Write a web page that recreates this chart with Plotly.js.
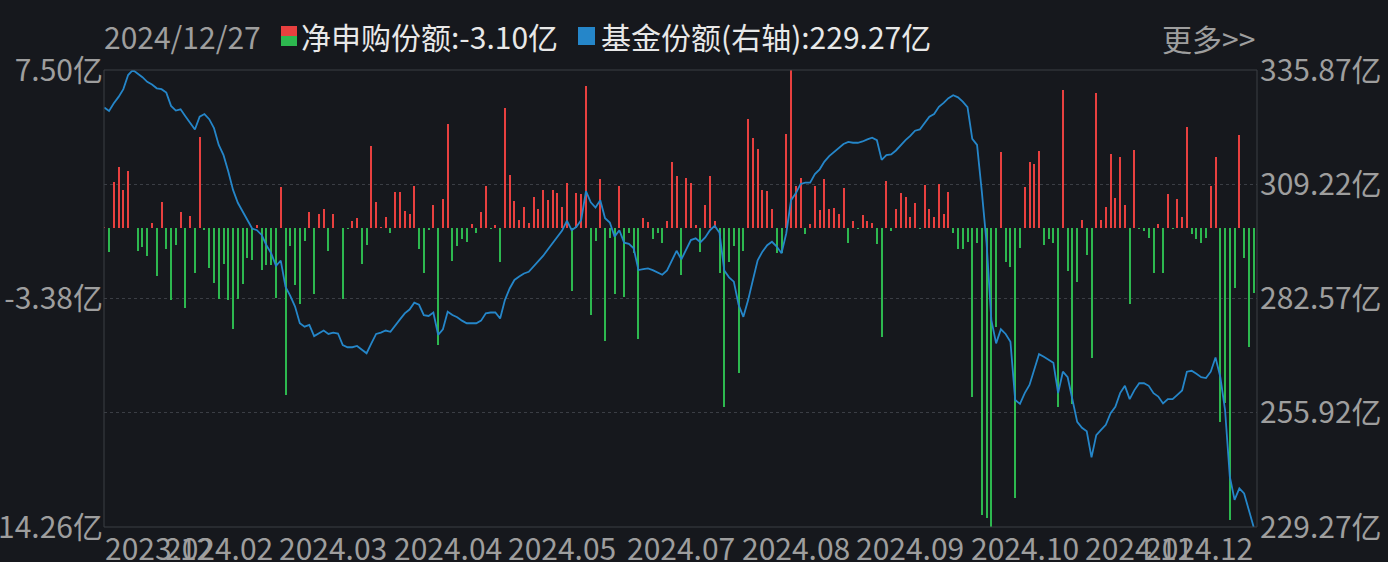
<!DOCTYPE html>
<html>
<head>
<meta charset="utf-8">
<script src="https://cdn.plot.ly/plotly-3.0.1.min.js"></script>
<style>
  html, body { margin: 0; padding: 0; background: #16181d; }
  #chart { width: 1388px; height: 562px; }
</style>
</head>
<body>
<div id="chart"></div>
<script>
// ---- trading calendar (categories) ----
const tradeMonths = ['2023-12','2024-01','2024-02','2024-03','2024-04','2024-05','2024-06','2024-07','2024-08','2024-09','2024-10','2024-11','2024-12'];
const tradeDays = [
  [28,29],
  [2,3,4,5,8,9,10,11,12,15,16,17,18,19,22,23,24,25,26,29,30,31],
  [1,2,5,6,7,8,19,20,21,22,23,26,27,28,29],
  [1,4,5,6,7,8,11,12,13,14,15,18,19,20,21,22,25,26,27,28,29],
  [1,2,3,8,9,10,11,12,15,16,17,18,19,22,23,24,25,26,29,30],
  [6,7,8,9,10,13,14,15,16,17,20,21,22,23,24,27,28,29,30,31],
  [3,4,5,6,7,11,12,13,14,17,18,19,20,21,24,25,26,27,28],
  [1,2,3,4,5,8,9,10,11,12,15,16,17,18,19,22,23,24,25,26,29,30,31],
  [1,2,5,6,7,8,9,12,13,14,15,16,19,20,21,22,23,26,27,28,29,30],
  [2,3,4,5,6,9,10,11,12,13,18,19,20,23,24,25,26,27,30],
  [8,9,10,11,14,15,16,17,18,21,22,23,24,25,28,29,30,31],
  [1,4,5,6,7,8,11,12,13,14,15,18,19,20,21,22,25,26,27,28,29],
  [2,3,4,5,6,9,10,11,12,13,16,17,18,19,20,23,24,25,26,27]
];
const dates = [];
tradeMonths.forEach((m, k) => tradeDays[k].forEach(d => dates.push(m + '-' + String(d).padStart(2, '0'))));

// ---- series: net subscription (亿份) ----
const netSubscription = [
  0.03,-1.15,2.18,2.90,1.79,2.71,-0.04,-1.10,-0.91,-1.34,
  0.23,-2.31,1.21,-1.01,-3.47,-0.85,0.75,-3.82,0.56,-2.15,
  4.29,-0.13,-1.93,-2.63,-3.40,-1.72,-3.47,-4.82,-3.40,-2.67,
  -1.45,-1.55,0.12,-2.01,-1.77,-1.77,-3.34,1.93,-7.96,-0.88,
  -2.72,-3.63,-0.64,0.72,-3.15,0.64,0.87,-1.10,0.64,-0.03,
  -3.40,-0.07,0.31,0.45,-1.72,-0.82,3.87,1.20,0.03,0.50,
  -0.28,1.67,1.67,0.79,0.66,1.98,-1.02,-2.15,-0.10,1.07,
  -5.58,1.37,4.93,-1.58,-0.87,-0.55,-0.67,0.17,-0.28,0.74,
  1.98,-0.08,0.13,-1.63,5.67,2.50,1.28,0.37,0.98,0.23,
  1.47,0.88,1.79,1.31,1.79,1.63,0.98,2.12,-3.01,1.64,
  1.60,6.74,-4.17,-0.64,2.31,-5.39,-0.50,-3.15,1.98,-3.29,
  -0.28,-1.23,-5.29,0.45,0.25,-0.55,-0.25,-0.73,0.33,3.10,
  2.45,-2.25,2.37,2.12,0.12,-1.15,1.07,2.45,0.31,-2.15,
  -8.53,-1.63,-0.87,-6.94,-1.10,5.17,4.26,3.74,1.79,1.74,
  0.88,-1.21,-1.23,4.45,7.50,1.98,2.36,-0.33,0.17,1.98,
  0.83,2.31,0.88,0.93,0.64,1.90,-0.76,0.31,-0.08,0.60,
  0.31,0.21,-0.80,-5.20,2.21,-0.18,0.88,1.64,1.45,0.50,
  1.17,-0.05,2.02,0.88,0.50,2.07,0.66,1.69,-0.25,-1.01,
  -1.01,-0.67,-8.06,-0.73,-13.69,-13.85,-14.26,-4.72,3.58,-1.63,
  -1.87,-12.90,-0.99,1.94,3.10,3.02,3.64,-0.82,-0.55,-0.76,
  -8.53,6.55,-2.06,-8.40,-2.58,0.36,-1.31,-6.20,6.42,0.36,
  0.99,3.50,1.42,3.37,1.07,-3.63,3.69,-0.07,-0.15,-0.48,
  -2.18,0.17,-2.18,1.60,-0.05,1.37,0.50,4.79,-0.29,-0.55,
  -0.73,-0.48,1.99,3.37,-9.25,-8.37,-13.93,-2.90,4.40,-1.44,
  -5.67,-3.10
];

// ---- series: fund shares (亿份, right axis) ----
const fundShares = [
  327.1,326.3,328.1,329.6,331.4,334.7,335.87,335.1,334.2,333.1,
  332.5,331.6,331.4,330.6,327.5,326.4,326.7,325.1,323.4,322.0,
  325.0,325.6,324.4,322.3,318.4,316.0,312.2,307.9,304.9,302.8,
  300.9,298.9,298.5,297.4,295.0,293.1,290.2,291.4,285.3,283.2,
  280.7,276.8,276.0,276.4,273.8,274.4,275.1,274.3,274.6,274.4,
  271.7,271.2,271.2,271.5,270.7,269.8,272.1,274.3,274.6,275.1,
  274.8,276.4,277.7,279.1,280.0,281.6,281.1,278.7,278.5,279.3,
  274.1,275.4,279.5,278.7,278.2,277.4,276.8,276.8,276.8,277.4,
  279.1,279.3,279.3,277.9,282.2,284.9,286.9,287.7,288.4,288.8,
  290.0,291.3,292.5,294.0,295.4,296.8,298.4,300.7,298.5,299.3,
  300.9,307.6,305.0,303.8,305.5,301.3,300.3,297.0,298.5,295.6,
  295.3,294.3,289.2,289.4,289.6,289.2,288.6,288.1,289.1,291.5,
  293.7,291.7,293.9,296.2,296.6,295.7,296.8,298.5,299.5,297.9,
  289.1,287.5,286.5,281.1,278.3,282.2,286.9,291.5,293.5,295.0,
  295.8,294.7,293.1,297.8,305.5,307.1,309.3,309.6,309.6,311.6,
  312.7,314.5,315.8,316.8,317.8,318.6,319.1,318.9,318.9,319.2,
  319.7,320.1,319.5,314.9,316.0,316.2,317.1,318.4,319.5,320.5,
  321.7,322.0,323.6,325.0,325.6,327.3,328.2,329.3,330.0,329.5,
  328.5,327.2,319.8,318.4,307.5,295.5,277.5,272.1,275.4,274.3,
  272.5,258.9,258.0,260.5,262.4,265.9,269.6,269.0,268.2,267.6,
  260.5,265.5,264.2,259.3,253.8,252.4,251.6,245.5,250.7,251.9,
  253.1,255.8,257.3,260.5,262.2,259.1,261.2,262.8,262.8,262.2,
  260.5,259.7,258.1,259.1,259.1,260.1,261.1,265.5,265.7,265.0,
  264.2,264.0,265.5,268.8,264.3,256.6,241.0,235.6,238.3,237.1,
  232.9,229.27
];

// ---- tick labels ----
const leftTicks = [7.50, -3.38, -14.26];
const rightTicks = [335.87, 309.22, 282.57, 255.92, 229.27];
const xTickLabels = ['2023.12','2024.02','2024.03','2024.04','2024.05','2024.07','2024.08','2024.09','2024.10','2024.11','2024.12'];
const seriesNames = ['净申购份额', '基金份额(右轴)'];
const moreLabel = '更多>>';

// ---- styles ----
const FONT = "'Noto Sans CJK SC', 'Noto Sans', sans-serif";
const BG = '#16181d';
const GRAY = '#9e9e9e';
const WHITE = '#e8e8e8';
const RED = '#e8403f';
const GREEN = '#2db84f';
const BLUE = '#2586c9';
const LINEC = '#3b3e45';
const FS = 30;

const M = {l: 104, r: 131, t: 70, b: 35};
const PW = 1388 - M.l - M.r, PH = 562 - M.t - M.b;
const px = x => (x - M.l) / PW;           // pixel -> paper x
const py = y => (562 - M.b - y) / PH;     // pixel -> paper y

const N = dates.length;
const lastDate = dates[N - 1].replace(/-/g, '/');
const lastNet = netSubscription[N - 1];
const lastShare = fundShares[N - 1];

const barTrace = {
  type: 'bar', x: dates, y: netSubscription, yaxis: 'y',
  marker: {color: netSubscription.map(v => v >= 0 ? RED : GREEN), line: {width: 0}},
  width: 0.42, hoverinfo: 'skip'
};
const lineTrace = {
  type: 'scatter', mode: 'lines', x: dates, y: fundShares, yaxis: 'y2',
  line: {color: BLUE, width: 1.8}, hoverinfo: 'skip'
};

const annotations = [];
// x labels at 11 evenly spaced positions
xTickLabels.forEach((t, k) => {
  const idx = Math.round(k * (N - 1) / (xTickLabels.length - 1));
  annotations.push({
    xref: 'x', yref: 'paper', x: dates[idx], y: 0, yshift: -20,
    xanchor: k === 0 ? 'left' : (k === xTickLabels.length - 1 ? 'right' : 'center'),
    yanchor: 'middle', text: t, showarrow: false, borderpad: 0,
    font: {family: FONT, size: FS, color: GRAY}
  });
});
// header
annotations.push({xref: 'paper', yref: 'paper', x: px(102), y: py(36), xanchor: 'left', yanchor: 'middle',
  text: lastDate, showarrow: false, font: {family: FONT, size: FS, color: GRAY}});
annotations.push({xref: 'paper', yref: 'paper', x: px(299), y: py(36), xanchor: 'left', yanchor: 'middle',
  text: seriesNames[0] + ':' + lastNet.toFixed(2) + '亿', showarrow: false, font: {family: FONT, size: FS, color: WHITE}});
annotations.push({xref: 'paper', yref: 'paper', x: px(599), y: py(36), xanchor: 'left', yanchor: 'middle',
  text: seriesNames[1] + ':' + lastShare.toFixed(2) + '亿', showarrow: false, font: {family: FONT, size: FS, color: WHITE}});
annotations.push({xref: 'paper', yref: 'paper', x: px(1257), y: py(38), xanchor: 'right', yanchor: 'middle',
  text: moreLabel, showarrow: false, font: {family: FONT, size: FS, color: GRAY}});

const shapes = [
  {type: 'rect', xref: 'paper', yref: 'paper', x0: px(281), x1: px(297), y0: py(26), y1: py(36), fillcolor: RED, line: {width: 0}},
  {type: 'rect', xref: 'paper', yref: 'paper', x0: px(281), x1: px(297), y0: py(36), y1: py(46), fillcolor: GREEN, line: {width: 0}},
  {type: 'rect', xref: 'paper', yref: 'paper', x0: px(578), x1: px(595), y0: py(27), y1: py(45), fillcolor: BLUE, line: {width: 0}},
  {type: 'rect', xref: 'paper', yref: 'paper', x0: 0, x1: 1, y0: 0, y1: 1, line: {color: LINEC, width: 1}, layer: 'above'}
];

const layout = {
  width: 1388, height: 562,
  margin: M,
  paper_bgcolor: BG, plot_bgcolor: BG,
  showlegend: false,
  bargap: 0,
  xaxis: {type: 'category', range: [-0.06, N - 0.3], showgrid: false, showticklabels: false,
          zeroline: false, showline: false, ticks: '', fixedrange: true},
  yaxis: {range: [leftTicks[2], leftTicks[0]], tickvals: leftTicks,
          ticktext: leftTicks.map(v => v.toFixed(2) + '亿'),
          showgrid: false, zeroline: false, showline: false, ticks: '', ticklabelstandoff: 0,
          tickfont: {family: FONT, size: FS, color: GRAY}, fixedrange: true},
  yaxis2: {overlaying: 'y', side: 'right', range: [rightTicks[4], rightTicks[0]], tickvals: rightTicks,
           ticktext: rightTicks.map(v => v.toFixed(2) + '亿'),
           showgrid: true, gridcolor: LINEC, griddash: 'dot', gridwidth: 1,
           zeroline: false, showline: false, ticks: '', ticklabelstandoff: 2,
           tickfont: {family: FONT, size: FS, color: GRAY}, fixedrange: true},
  annotations: annotations,
  shapes: shapes
};

Plotly.newPlot('chart', [barTrace, lineTrace], layout, {displayModeBar: false, staticPlot: true});
</script>
</body>
</html>
